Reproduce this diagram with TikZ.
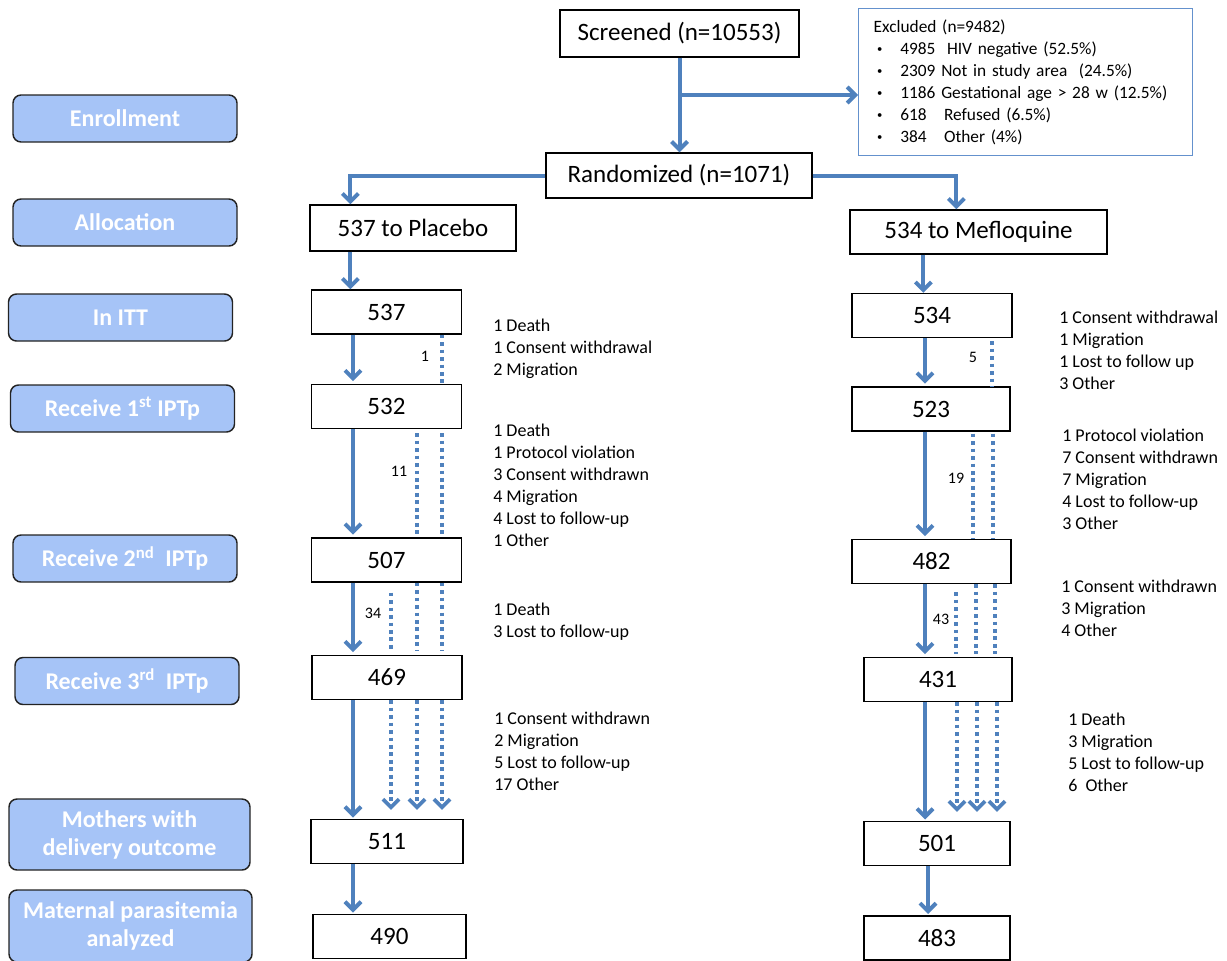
\documentclass[tikz,border=0pt]{standalone}
\usepackage{fontspec}
\setmainfont{Carlito}
\usetikzlibrary{arrows.meta,calc}
\definecolor{arrblue}{RGB}{79,129,189}
\definecolor{lblfill}{RGB}{166,196,247}
\definecolor{lbldraw}{RGB}{35,35,35}
\definecolor{exdraw}{RGB}{100,145,205}
\newcommand{\exbul}{\makebox[20pt][l]{\hspace{2.5pt}\raisebox{1pt}{\fontsize{8}{8}\selectfont •}}}
\begin{document}
\begin{tikzpicture}[x=0.75pt,y=-0.75pt,
  box/.style={draw=black, line width=1pt, fill=white, minimum height=33pt, inner sep=0pt, font=\fontsize{18.75}{20}\selectfont},
  numbox/.style={box, minimum width=112.5pt},
  lbl/.style={draw=lbldraw, line width=1.1pt, fill=lblfill, rounded corners=6pt, minimum width=168pt, minimum height=35.25pt, text=white, font=\bfseries\fontsize{18}{21}\selectfont, align=center, inner sep=0pt},
  arr/.style={draw=arrblue, line width=3pt, -{Straight Barb[length=6pt,width=12pt]}},
  dotl/.style={draw=arrblue, line width=2.8pt, dash pattern=on 2.8pt off 2.8pt},
  dotarr/.style={dotl, -{Straight Barb[length=6pt,width=12pt]}},
  side/.style={align=left, anchor=west, inner sep=0pt, font=\fontsize{13.5}{16.5}\selectfont},
  cnt/.style={inner sep=0pt, font=\fontsize{12}{12}\selectfont}
]
\useasboundingbox (0,0) rectangle (1227,960);

% phase labels
\node[lbl] (lEnr) at (125,118.5) {Enrollment};
\node[lbl] (lAll) at (125,222.5) {Allocation};
\node[lbl] (lItt) at (120.5,317.5) {In ITT};
\node[lbl] (lR1) at (122.5,408.5) {Receive 1\textsuperscript{st} IPTp};
\node[lbl] (lR2) at (125,558.5) {Receive 2\textsuperscript{nd}\ \ IPTp};
\node[lbl] (lR3) at (127,681) {Receive 3\textsuperscript{rd}\ \ IPTp};
\node[lbl, minimum width=180.75pt, minimum height=53.25pt] (lMot) at (129.5,834.5) {Mothers with\\delivery outcome};
\node[lbl, minimum width=182.25pt, minimum height=54pt] (lMat) at (130.5,926) {Maternal parasitemia\\analyzed};

% top boxes
\node[box, minimum width=179.25pt, minimum height=35.25pt] (scr) at (679.5,33.5) {Screened (n=10553)};
\node[draw=exdraw, line width=1pt, anchor=north west, minimum width=250.5pt, minimum height=110.25pt, text width=228pt, inner xsep=11.25pt, inner ysep=0pt, align=left, font=\fontsize{13}{16.5}\selectfont] (excl) at (858,8)
 {Excluded (n=9482)\\
  \exbul 4985\ \ HIV negative (52.5\%)\\
  \exbul 2309 Not in study area\ \ (24.5\%)\\
  \exbul 1186 Gestational age > 28 w (12.5\%)\\
  \exbul 618\ \ \ Refused (6.5\%)\\
  \exbul 384\ \ \ Other (4\%)};
\node[box, minimum width=199.5pt, minimum height=33.75pt] (rand) at (679,175.5) {Randomized (n=1071)};
\node[box, minimum width=154.5pt, minimum height=34.5pt] (plac) at (413,228) {537 to Placebo};
\node[box, minimum width=192.75pt, minimum height=33pt] (mef) at (978.5,232) {534 to Mefloquine};

% left column
\node[numbox] (a537) at (386.5,312) {537};
\node[numbox] (a532) at (386.5,406.5) {532};
\node[numbox] (a507) at (386.5,560) {507};
\node[numbox] (a469) at (387,677.5) {469};
\node[numbox, minimum width=114pt] (a511) at (387,841.5) {511};
\node[numbox, minimum width=114.75pt] (a490) at (389.5,936.5) {490};

% right column
\node[numbox, minimum width=120pt] (b534) at (932,315.5) {534};
\node[numbox, minimum width=118.5pt] (b523) at (931,409) {523};
\node[numbox, minimum width=119.25pt] (b482) at (931.5,561.5) {482};
\node[numbox, minimum width=111pt] (b431) at (938,679.5) {431};
\node[numbox, minimum width=109.5pt] (b501) at (937,843.5) {501};
\node[numbox, minimum width=109.5pt] (b483) at (937,938) {483};

% column x references
\coordinate (xL) at (353,0);
\coordinate (d1) at (391,0);
\coordinate (d2) at (417,0);
\coordinate (d3) at (442,0);
\coordinate (xR) at (925,0);
\coordinate (e1) at (956,0);
\coordinate (e2) at (976,0);
\coordinate (e3) at (995,0);
\coordinate (bx) at (680,95);
\coordinate (pA) at ($(plac.south west)+(41,0)$);
\coordinate (mA) at ($(mef.south west)+(74,0)$);

% top connectors
\draw[arr] (scr.south) -- (scr.south |- rand.north);
\draw[arr] (bx) -- (bx -| excl.west);
\draw[arr] (rand.west) -| ($(plac.north west)+(41,0)$);
\draw[arr] (rand.east) -| ($(mef.north west)+(107,0)$);
\draw[arr] (pA) -- (pA |- a537.north);
\draw[arr] (mA) -- (mA |- b534.north);

% left main arrows
\draw[arr, shorten >=2pt] (a537.south -| xL) -- (a532.north -| xL);
\draw[arr, shorten >=2pt] (a532.south -| xL) -- (a507.north -| xL);
\draw[arr, shorten >=2pt] (a507.south -| xL) -- (a469.north -| xL);
\draw[arr, shorten >=1pt] (a469.south -| xL) -- (a511.north -| xL);
\draw[arr, shorten >=1pt] (a511.south -| xL) -- (a490.north -| xL);

% left dotted
\draw[dotl] (a537.south -| d3) -- (a532.north -| d3);
\draw[dotl] ($(a532.south -| d2)+(0,4)$) -- (a507.north -| d2);
\draw[dotl] ($(a532.south -| d3)+(0,4)$) -- (a507.north -| d3);
\draw[dotl] ($(a507.south -| d1)+(0,10)$) -- ($(a469.north -| d1)+(0,-4)$);
\draw[dotl] (a507.south -| d2) -- ($(a469.north -| d2)+(0,-4)$);
\draw[dotl] (a507.south -| d3) -- ($(a469.north -| d3)+(0,-4)$);
\draw[dotarr] (a469.south -| d1) -- ($(a511.north -| d1)+(0,-9)$);
\draw[dotarr] (a469.south -| d2) -- ($(a511.north -| d2)+(0,-9)$);
\draw[dotarr] (a469.south -| d3) -- ($(a511.north -| d3)+(0,-9)$);

% right main arrows
\draw[arr, shorten >=2pt] (b534.south -| xR) -- (b523.north -| xR);
\draw[arr, shorten >=2pt] (b523.south -| xR) -- (b482.north -| xR);
\draw[arr, shorten >=2pt] (b482.south -| xR) -- (b431.north -| xR);
\draw[arr, shorten >=1pt] (b431.south -| xR) -- (b501.north -| xR);
\draw[arr, shorten >=1pt] ($(b501.south -| xR)+(3,0)$) -- ($(b483.north -| xR)+(3,0)$);

% right dotted
\draw[dotl] ($(b534.south -| e3)+(-3,3)$) -- ($(b523.north -| e3)+(-3,0)$);
\draw[dotl] ($(b523.south -| e2)+(-3,2)$) -- ($(b482.north -| e2)+(-3,0)$);
\draw[dotl] ($(b523.south -| e3)+(-2,2)$) -- ($(b482.north -| e3)+(-2,0)$);
\draw[dotl] ($(b482.south -| e1)+(0,8)$) -- ($(b431.north -| e1)+(0,-3)$);
\draw[dotl] (b482.south -| e2) -- ($(b431.north -| e2)+(0,-3)$);
\draw[dotl] (b482.south -| e3) -- ($(b431.north -| e3)+(0,-3)$);
\draw[dotarr] ($(b431.south -| e1)+(1,0)$) -- ($(b501.north -| e1)+(1,-9)$);
\draw[dotarr] ($(b431.south -| e2)+(1,0)$) -- ($(b501.north -| e2)+(1,-9)$);
\draw[dotarr] ($(b431.south -| e3)+(2,0)$) -- ($(b501.north -| e3)+(2,-9)$);

% count labels
\node[cnt] (c1) at (425,356) {1};
\node[cnt] (c11) at (399,471) {11};
\node[cnt] (c34) at (373,613) {34};
\node[cnt] (c5) at (973,357) {5};
\node[cnt] (c19) at (956,478) {19};
\node[cnt] (c43) at (941,619) {43};

% side texts
\node[side] (t1) at (493,349) {1 Death\\1 Consent withdrawal\\2 Migration};
\node[side] (t2) at (493,485) {1 Death\\1 Protocol violation\\3 Consent withdrawn\\4 Migration\\4 Lost to follow-up\\1 Other};
\node[side] (t3) at (493,622) {1 Death\\3 Lost to follow-up};
\node[side] (t4) at (494,751) {1 Consent withdrawn\\2 Migration\\5 Lost to follow-up\\17 Other};
\node[side] (r1) at (1059,350) {1 Consent withdrawal\\1 Migration\\1 Lost to follow up\\3 Other};
\node[side] (r2) at (1062,479) {1 Protocol violation\\7 Consent withdrawn\\7 Migration\\4 Lost to follow-up\\3 Other};
\node[side] (r3) at (1061,608.5) {1 Consent withdrawn\\3 Migration\\4 Other};
\node[side] (r4) at (1068,752) {1 Death\\3 Migration\\5 Lost to follow-up\\6\ \ Other};
\end{tikzpicture}
\end{document}
